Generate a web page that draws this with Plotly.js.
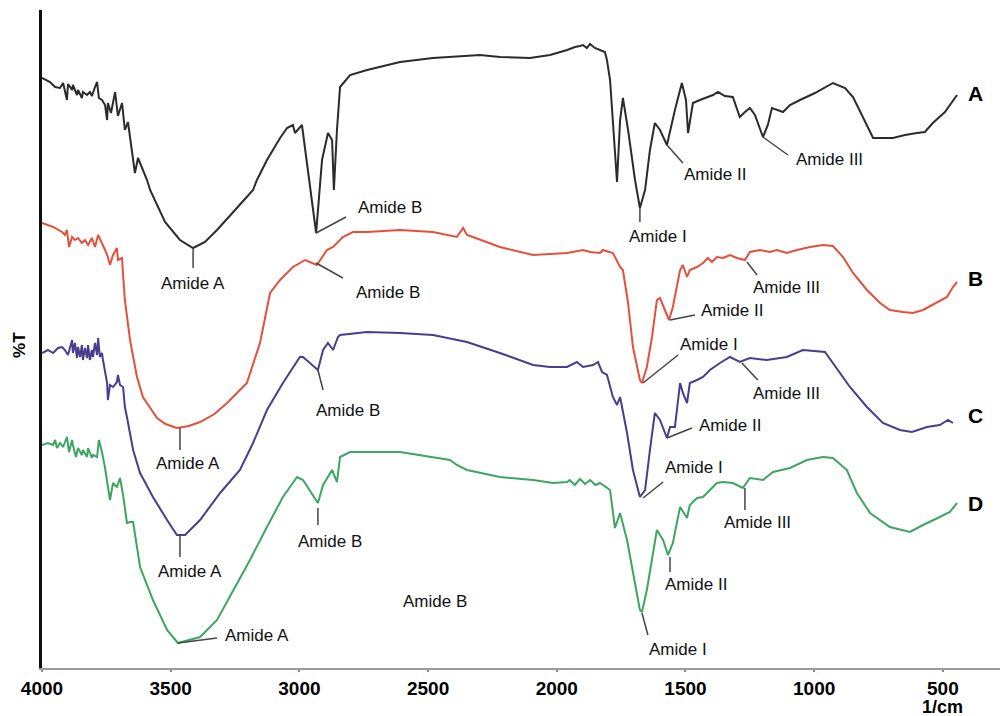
<!DOCTYPE html>
<html><head><meta charset="utf-8">
<script src="https://cdn.plot.ly/plotly-3.0.1.min.js"></script>
<style>html,body{margin:0;padding:0;background:#fff}#chart{width:1000px;height:716px}</style>
</head><body><div id="chart"></div>
<script>
// Wavenumber (1/cm) and transmittance (arbitrary offset units) for each spectrum
const wnA=[4000,3969,3949,3930,3918,3911,3903,3899,3883,3880,3864,3860,3845,3841,3825,3814,3806,3794,3786,3779,3767,3755,3747,3744,3732,3716,3705,3689,3678,3666,3658,3639,3627,3612,3592,3580,3522,3464,3413,3367,3320,3250,3180,3165,3126,3075,3048,3025,3017,2990,2935,2912,2889,2873,2866,2854,2842,2803,2737,2609,2481,2298,2221,2104,2026,1960,1929,1910,1898,1883,1871,1852,1832,1813,1805,1793,1766,1754,1743,1723,1696,1677,1657,1638,1619,1599,1572,1541,1514,1498,1490,1471,1444,1393,1374,1347,1316,1289,1269,1250,1230,1199,1180,1164,1121,1094,1055,997,927,880,849,771,694,647,601,570,539,492,445];
const tA=[590,586,581,580,585,578,568,584,578,583,573,578,570,576,573,576,572,581,586,570,568,563,548,565,555,576,552,565,538,546,531,495,510,501,488,478,446,428,420,426,438,458,478,488,508,530,540,543,535,543,435,508,535,528,478,538,581,593,598,606,610,613,611,610,613,618,621,622,623,620,624,620,618,616,608,588,486,548,570,538,488,460,478,518,545,538,523,558,585,568,535,565,568,573,576,572,571,551,556,560,553,531,543,560,556,563,568,575,585,580,571,530,530,533,535,536,545,556,573];

const wnB=[4000,3957,3922,3911,3903,3895,3883,3872,3860,3845,3833,3821,3806,3794,3782,3767,3755,3744,3736,3724,3709,3705,3689,3685,3678,3658,3631,3608,3553,3520,3476,3430,3386,3330,3281,3204,3153,3114,3075,3025,2978,2932,2920,2893,2869,2854,2831,2792,2737,2609,2481,2388,2364,2349,2326,2221,2092,1960,1898,1871,1832,1821,1782,1754,1743,1723,1704,1677,1669,1650,1630,1611,1599,1580,1564,1549,1521,1510,1494,1483,1455,1432,1413,1397,1378,1354,1327,1300,1269,1250,1211,1172,1145,1106,1067,1016,966,927,888,849,795,744,706,655,616,577,523,484,461,445];
const tB=[445,441,436,433,438,421,431,428,430,425,428,423,430,421,433,425,418,411,403,413,420,408,410,393,368,328,291,271,250,244,240,242,246,254,265,285,325,375,388,401,408,403,408,418,421,425,431,436,436,438,436,431,440,433,431,421,413,415,418,416,415,418,415,401,398,365,321,288,285,301,331,368,370,358,348,361,398,403,391,398,401,405,410,406,411,410,413,410,408,416,418,416,418,415,418,421,423,422,411,395,378,365,358,356,355,358,366,371,381,386];

const wnC=[4000,3977,3957,3938,3922,3911,3899,3883,3880,3872,3864,3860,3852,3845,3841,3833,3825,3821,3814,3806,3802,3794,3786,3782,3775,3767,3763,3747,3744,3736,3724,3709,3705,3697,3685,3678,3670,3646,3619,3569,3514,3476,3444,3386,3308,3231,3180,3126,3064,2998,2986,2928,2908,2889,2869,2850,2842,2737,2609,2481,2349,2221,2092,2026,1960,1922,1898,1859,1840,1824,1805,1782,1766,1754,1727,1704,1677,1657,1638,1619,1599,1572,1560,1541,1521,1510,1494,1483,1455,1432,1405,1366,1327,1289,1250,1184,1106,1044,958,927,861,795,733,667,620,562,512,480,461];
const tC=[315,318,315,320,321,318,313,328,315,325,310,321,311,323,308,320,310,323,308,318,311,325,313,330,311,315,308,285,268,283,281,286,293,283,281,261,251,218,195,171,148,133,133,148,175,198,225,258,285,311,311,298,318,325,318,331,333,336,335,333,326,315,303,301,301,306,301,303,306,296,293,271,263,271,235,198,171,178,218,255,248,230,241,241,285,275,265,285,288,291,298,305,311,306,310,308,311,318,316,305,281,261,245,238,236,241,243,248,245];

const wnD=[4000,3977,3957,3949,3942,3930,3918,3903,3895,3883,3880,3868,3860,3845,3841,3825,3821,3806,3802,3786,3779,3767,3755,3744,3736,3724,3709,3697,3685,3670,3658,3646,3639,3619,3569,3514,3472,3386,3320,3242,3192,3126,3064,3009,2986,2928,2908,2873,2854,2842,2803,2609,2415,2388,2349,2221,2092,2015,1960,1950,1930,1910,1890,1870,1850,1832,1793,1774,1754,1727,1677,1669,1650,1611,1587,1568,1549,1521,1494,1483,1455,1432,1378,1354,1316,1277,1250,1199,1160,1094,1028,966,927,873,834,783,706,628,577,512,473,445];
const tD=[223,225,223,228,220,225,221,231,216,228,223,211,220,213,218,211,220,210,213,211,228,216,200,180,168,185,181,190,173,145,146,146,135,101,68,38,25,31,48,85,108,141,171,191,188,165,183,198,186,211,216,216,208,203,198,191,188,185,186,188,183,189,184,188,183,185,178,140,155,128,58,56,78,138,128,113,125,161,150,163,170,171,185,186,185,180,190,188,196,200,208,211,210,198,175,155,141,136,143,151,156,165];

const seriesNames=['A','B','C','D'];
const seriesColors=['#2b2b2b','#e5503d','#4b3c8e','#3ea563'];
const seriesLabelY=[575,390,253,165];
const seriesLabelX=375;

// Band labels and leader lines
const labelText=['Amide A','Amide B','Amide I','Amide II','Amide III','Amide B','Amide III','Amide II','Amide A','Amide I','Amide B','Amide III','Amide II','Amide A','Amide I','Amide B','Amide III','Amide II','Amide A','Amide I','Amide B'];
const labelX=[3413,2648,1607,1385,939,2656,1106,1319,3433,1409,2811,1106,1327,3425,1467,2881,1222,1459,3165,1529,2473];
const labelY=[385,461,432,494,509,376,381,358,205,324,258,275,243,97,201,127,146,84,33,19,67];
const leadX0=[3413,2935,1677,1572,1199,2935,1261,1560,3464,1665,2928,1281,1572,3464,1665,2928,1269,1560,3472,1669];
const leadY0=[420,435,460,523,531,405,406,348,240,285,298,305,230,133,170,160,180,111,25,55];
const leadX1=[3413,2819,1677,1510,1102,2831,1222,1463,3464,1529,2908,1219,1475,3464,1587,2928,1269,1560,3320,1646];
const leadY1=[400,451,446,505,513,390,393,353,218,313,278,288,240,111,186,143,158,96,30,33];

const tickVals=[4000,3500,3000,2500,2000,1500,1000,500];

const xs=[wnA,wnB,wnC,wnD], ys=[tA,tB,tC,tD];
const traces=seriesNames.map((n,i)=>({
  x:xs[i], y:ys[i], name:n, type:'scatter', mode:'lines',
  line:{color:seriesColors[i], width:2}, hoverinfo:'skip'
}));

const font='Liberation Sans, Arial, Helvetica, sans-serif';
const annotations=[];
labelText.forEach((t,i)=>annotations.push({
  x:labelX[i], y:labelY[i], xref:'x', yref:'y', text:t, showarrow:false,
  xanchor:'center', yanchor:'middle', font:{family:font, size:17, color:'#111'}
}));
seriesNames.forEach((n,i)=>annotations.push({
  x:seriesLabelX, y:seriesLabelY[i], xref:'x', yref:'y', text:n, showarrow:false,
  xanchor:'center', yanchor:'middle', font:{family:font, size:21, color:'#000', weight:'bold'}
}));
annotations.push({x:-0.023, y:0.491, xref:'paper', yref:'paper', text:'%T', textangle:-90,
  showarrow:false, xanchor:'center', yanchor:'middle', font:{family:font, size:17, color:'#000', weight:'bold'}});
annotations.push({x:500, y:-0.0595, xref:'x', yref:'paper', text:'1/cm', showarrow:false,
  xanchor:'center', yanchor:'middle', borderpad:0, font:{family:font, size:18, color:'#000', weight:'bold'}});

const shapes=leadX0.map((v,i)=>({type:'line', xref:'x', yref:'y', x0:v, y0:leadY0[i], x1:leadX1[i], y1:leadY1[i],
  line:{color:'#444', width:1.5}}));

const layout={
  width:1000, height:716, margin:{l:42, r:0, t:10, b:48},
  paper_bgcolor:'#fff', plot_bgcolor:'#fff', showlegend:false,
  xaxis:{range:[4000,278], showgrid:false, zeroline:false, showline:true, linecolor:'#9a9a9a', linewidth:2,
    ticks:'outside', ticklen:2, tickwidth:2, tickcolor:'#888', tickvals:tickVals,
    tickfont:{family:font, size:19, color:'#000', weight:'bold'}},
  yaxis:{range:[0,658], showgrid:false, zeroline:false, showline:true, linecolor:'#111', linewidth:3,
    showticklabels:false, ticks:''},
  annotations:annotations, shapes:shapes
};
Plotly.newPlot('chart', traces, layout, {staticPlot:true, displayModeBar:false});
</script></body></html>
